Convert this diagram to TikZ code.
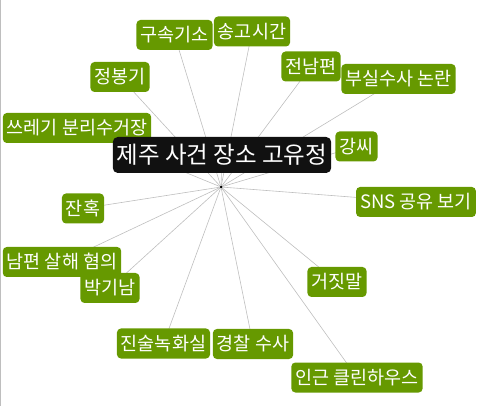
\documentclass[tikz,border=0pt]{standalone}
\usepackage{fontspec}
\usepackage{xcolor}
\usepackage{tikz}
\usetikzlibrary{backgrounds}
\newfontfamily\krfont{Noto Sans CJK KR}
\definecolor{taggreen}{RGB}{102,153,0}
\definecolor{hubblack}{RGB}{17,17,17}
\definecolor{linkgray}{RGB}{190,190,190}

\begin{document}
\begin{tikzpicture}[
  x=1pt,y=-1pt,
  tag/.style={fill=taggreen,text=white,rounded corners=4pt,
    minimum height=30pt,inner xsep=4pt,inner ysep=1pt,
    font=\krfont\fontsize{18.5}{20}\selectfont},
  topic/.style={fill=hubblack,text=white,rounded corners=5pt,
    minimum height=36pt,inner xsep=4pt,inner ysep=1pt,
    font=\krfont\fontsize{23.5}{25}\selectfont},
  link/.style={draw=linkgray,line width=0.6pt}
]
\useasboundingbox (0,0) rectangle (485,406);
\draw[linkgray,line width=0.8pt] (0.5,0) -- (0.5,406);
\node[circle,fill=black,inner sep=0pt,minimum size=3pt] (hub) at (221,187) {};
\node[tag] (sseuregi) at (77,128) {쓰레기 분리수거장};
\node[tag] (jeongbonggi) at (120,77) {정봉기};
\node[tag] (gusok) at (174.5,35) {구속기소};
\node[tag] (songgo) at (252,31.5) {송고시간};
\node[tag] (jeonnampyeon) at (311,66.5) {전남편};
\node[tag] (busil) at (398.5,79) {부실수사 논란};
\node[tag] (gangssi) at (356.5,146.5) {강씨};
\node[tag] (sns) at (416,202) {SNS 공유 보기};
\node[tag] (janhok) at (83,208.5) {잔혹};
\node[tag] (nampyeon) at (62,262) {남편 살해 혐의};
\node[tag] (parkginam) at (110,288) {박기남};
\node[tag] (geojitmal) at (337,282) {거짓말};
\node[tag] (jinsul) at (163.5,343.5) {진술녹화실};
\node[tag] (gyeongchal) at (253,344) {경찰 수사};
\node[tag] (cleanhouse) at (357,377.5) {인근 클린하우스};
\node[topic] (jeju) at (222,155) {제주 사건 장소 고유정};
\begin{scope}[on background layer]
\draw[link] (hub) -- (sseuregi.center);
\draw[link] (hub) -- (jeongbonggi.center);
\draw[link] (hub) -- (gusok.center);
\draw[link] (hub) -- (songgo.center);
\draw[link] (hub) -- (jeonnampyeon.center);
\draw[link] (hub) -- (busil.center);
\draw[link] (hub) -- (gangssi.center);
\draw[link] (hub) -- (sns.center);
\draw[link] (hub) -- (janhok.center);
\draw[link] (hub) -- (nampyeon.center);
\draw[link] (hub) -- (parkginam.center);
\draw[link] (hub) -- (geojitmal.center);
\draw[link] (hub) -- (jinsul.center);
\draw[link] (hub) -- (gyeongchal.center);
\draw[link] (hub) -- (cleanhouse.center);
\draw[link] (hub) -- (jeju.center);
\end{scope}
\end{tikzpicture}
\end{document}
